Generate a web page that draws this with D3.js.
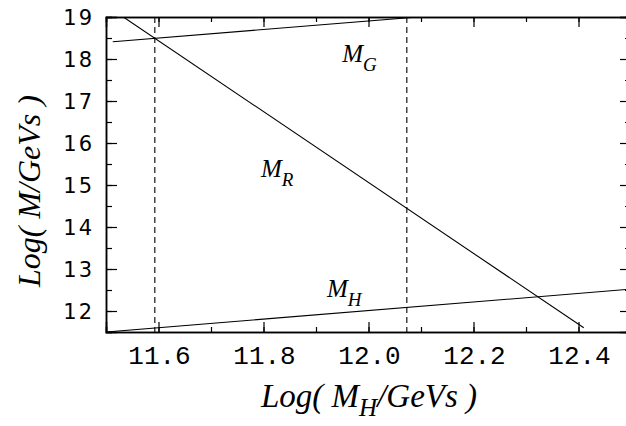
<!DOCTYPE html>
<html>
<head>
<meta charset="utf-8">
<script src="https://cdn.jsdelivr.net/npm/d3@7"></script>
<style>
  body { margin: 0; background: #fff; }
  .tick-y { font-family: "DejaVu Sans", sans-serif; font-size: 21px; letter-spacing: 2px; }
  .tick-x { font-family: "Liberation Mono", "Courier New", monospace; font-size: 26px; }
  .lab { font-family: "Liberation Serif", serif; font-style: italic; }
</style>
</head>
<body>
<div id="chart"></div>
<script>
// values (log10 of masses)
var xTicks = [11.6, 11.8, 12.0, 12.2, 12.4];
var yTicks = [12, 13, 14, 15, 16, 17, 18, 19];
var mG = [[11.513, 18.41], [12.094, 19.0]];
var mR = [[11.533, 19.0], [12.41, 11.6]];
var mH = [[11.5, 11.5], [12.5, 12.52]];
var dashX = [11.593, 12.073];
var labels = [
    {name: "M", sub: "G", x: 11.95, y: 17.93},
    {name: "M", sub: "R", x: 11.795, y: 15.19},
    {name: "M", sub: "H", x: 11.921, y: 12.33}
];

var width = 626,
    height = 426;

var svg = d3.select("#chart").append("svg")
    .attr("width", width)
    .attr("height", height);

var x = d3.scaleLinear().domain([11.5, 12.5]).range([106, 631]);
var y = d3.scaleLinear().domain([11.5, 19]).range([332, 17]);

// clip to plot box
svg.append("clipPath").attr("id", "box")
    .append("rect")
    .attr("x", x(11.5)).attr("y", y(19))
    .attr("width", x(12.5) - x(11.5)).attr("height", y(11.5) - y(19));

var plot = svg.append("g").attr("clip-path", "url(#box)");

var line = d3.line()
    .x(function (d) { return x(d[0]); })
    .y(function (d) { return y(d[1]); });

[mG, mR, mH].forEach(function (d) {
    plot.append("path")
        .attr("d", line(d))
        .attr("fill", "none")
        .attr("stroke", "#000")
        .attr("stroke-width", 1.1);
});

plot.selectAll(".dash")
    .data(dashX)
    .enter()
    .append("line")
    .attr("x1", function (d) { return x(d); })
    .attr("x2", function (d) { return x(d); })
    .attr("y1", y(19))
    .attr("y2", y(11.5))
    .attr("stroke", "#000")
    .attr("stroke-width", 1.1)
    .attr("stroke-dasharray", "6,4");

// minor ticks
var xMinor = d3.range(11.5, 12.5001, 0.1);
var yMinor = d3.range(11.5, 19.0001, 0.5);

// axes: ticks pointing inwards on all four sides
var xBottom = d3.axisTop(x).tickValues(xMinor).tickSize(5).tickFormat("");
var xBottomMajor = d3.axisTop(x).tickValues(xTicks).tickSize(10).tickFormat("");
var xTop = d3.axisBottom(x).tickValues(xMinor).tickSize(5).tickFormat("");
var xTopMajor = d3.axisBottom(x).tickValues(xTicks).tickSize(10).tickFormat("");
var yLeft = d3.axisRight(y).tickValues(yMinor).tickSize(6).tickFormat("");
var yLeftMajor = d3.axisRight(y).tickValues(yTicks).tickSize(11).tickFormat("");
var yRight = d3.axisLeft(y).tickValues(yMinor).tickSize(6).tickFormat("");
var yRightMajor = d3.axisLeft(y).tickValues(yTicks).tickSize(11).tickFormat("");

var axes = [
    [xBottom, "translate(0," + y(11.5) + ")"],
    [xBottomMajor, "translate(0," + y(11.5) + ")"],
    [xTop, "translate(0," + y(19) + ")"],
    [xTopMajor, "translate(0," + y(19) + ")"],
    [yLeft, "translate(" + x(11.5) + ",0)"],
    [yLeftMajor, "translate(" + x(11.5) + ",0)"],
    [yRight, "translate(" + x(12.5) + ",0)"],
    [yRightMajor, "translate(" + x(12.5) + ",0)"]
];
axes.forEach(function (a) {
    var g = svg.append("g").attr("transform", a[1]).call(a[0]);
    g.selectAll("line").attr("stroke", "#000").attr("stroke-width", 1.2);
    g.select(".domain").attr("stroke", "#000").attr("stroke-width", 1.5);
});

// tick labels
svg.selectAll(".tick-x")
    .data(xTicks)
    .enter()
    .append("text")
    .attr("class", "tick-x")
    .attr("x", function (d) { return x(d) + 1; })
    .attr("y", 364)
    .attr("text-anchor", "middle")
    .text(function (d) { return d.toFixed(1); });

svg.selectAll(".tick-y")
    .data(yTicks)
    .enter()
    .append("text")
    .attr("class", "tick-y")
    .attr("x", 94)
    .attr("y", function (d) { return y(d); })
    .attr("dy", "0.36em")
    .attr("text-anchor", "end")
    .text(function (d) { return d; });

// curve labels
labels.forEach(function (l) {
    var t = svg.append("text")
        .attr("class", "lab")
        .attr("x", x(l.x))
        .attr("y", y(l.y))
        .attr("font-size", 25);
    t.append("tspan").text(l.name);
    t.append("tspan").attr("dy", 9).attr("font-size", 19).text(l.sub);
});

// axis titles
var xt = svg.append("text")
    .attr("class", "lab")
    .attr("x", 369)
    .attr("y", 407)
    .attr("text-anchor", "middle")
    .attr("font-size", 33);
xt.append("tspan").text("Log( M");
xt.append("tspan").attr("dy", 9).attr("font-size", 25).text("H");
xt.append("tspan").attr("dy", -9).text("/GeVs )");

svg.append("text")
    .attr("class", "lab")
    .attr("transform", "translate(40,191) rotate(-90)")
    .attr("text-anchor", "middle")
    .attr("font-size", 32)
    .text("Log( M/GeVs )");
</script>
</body>
</html>
